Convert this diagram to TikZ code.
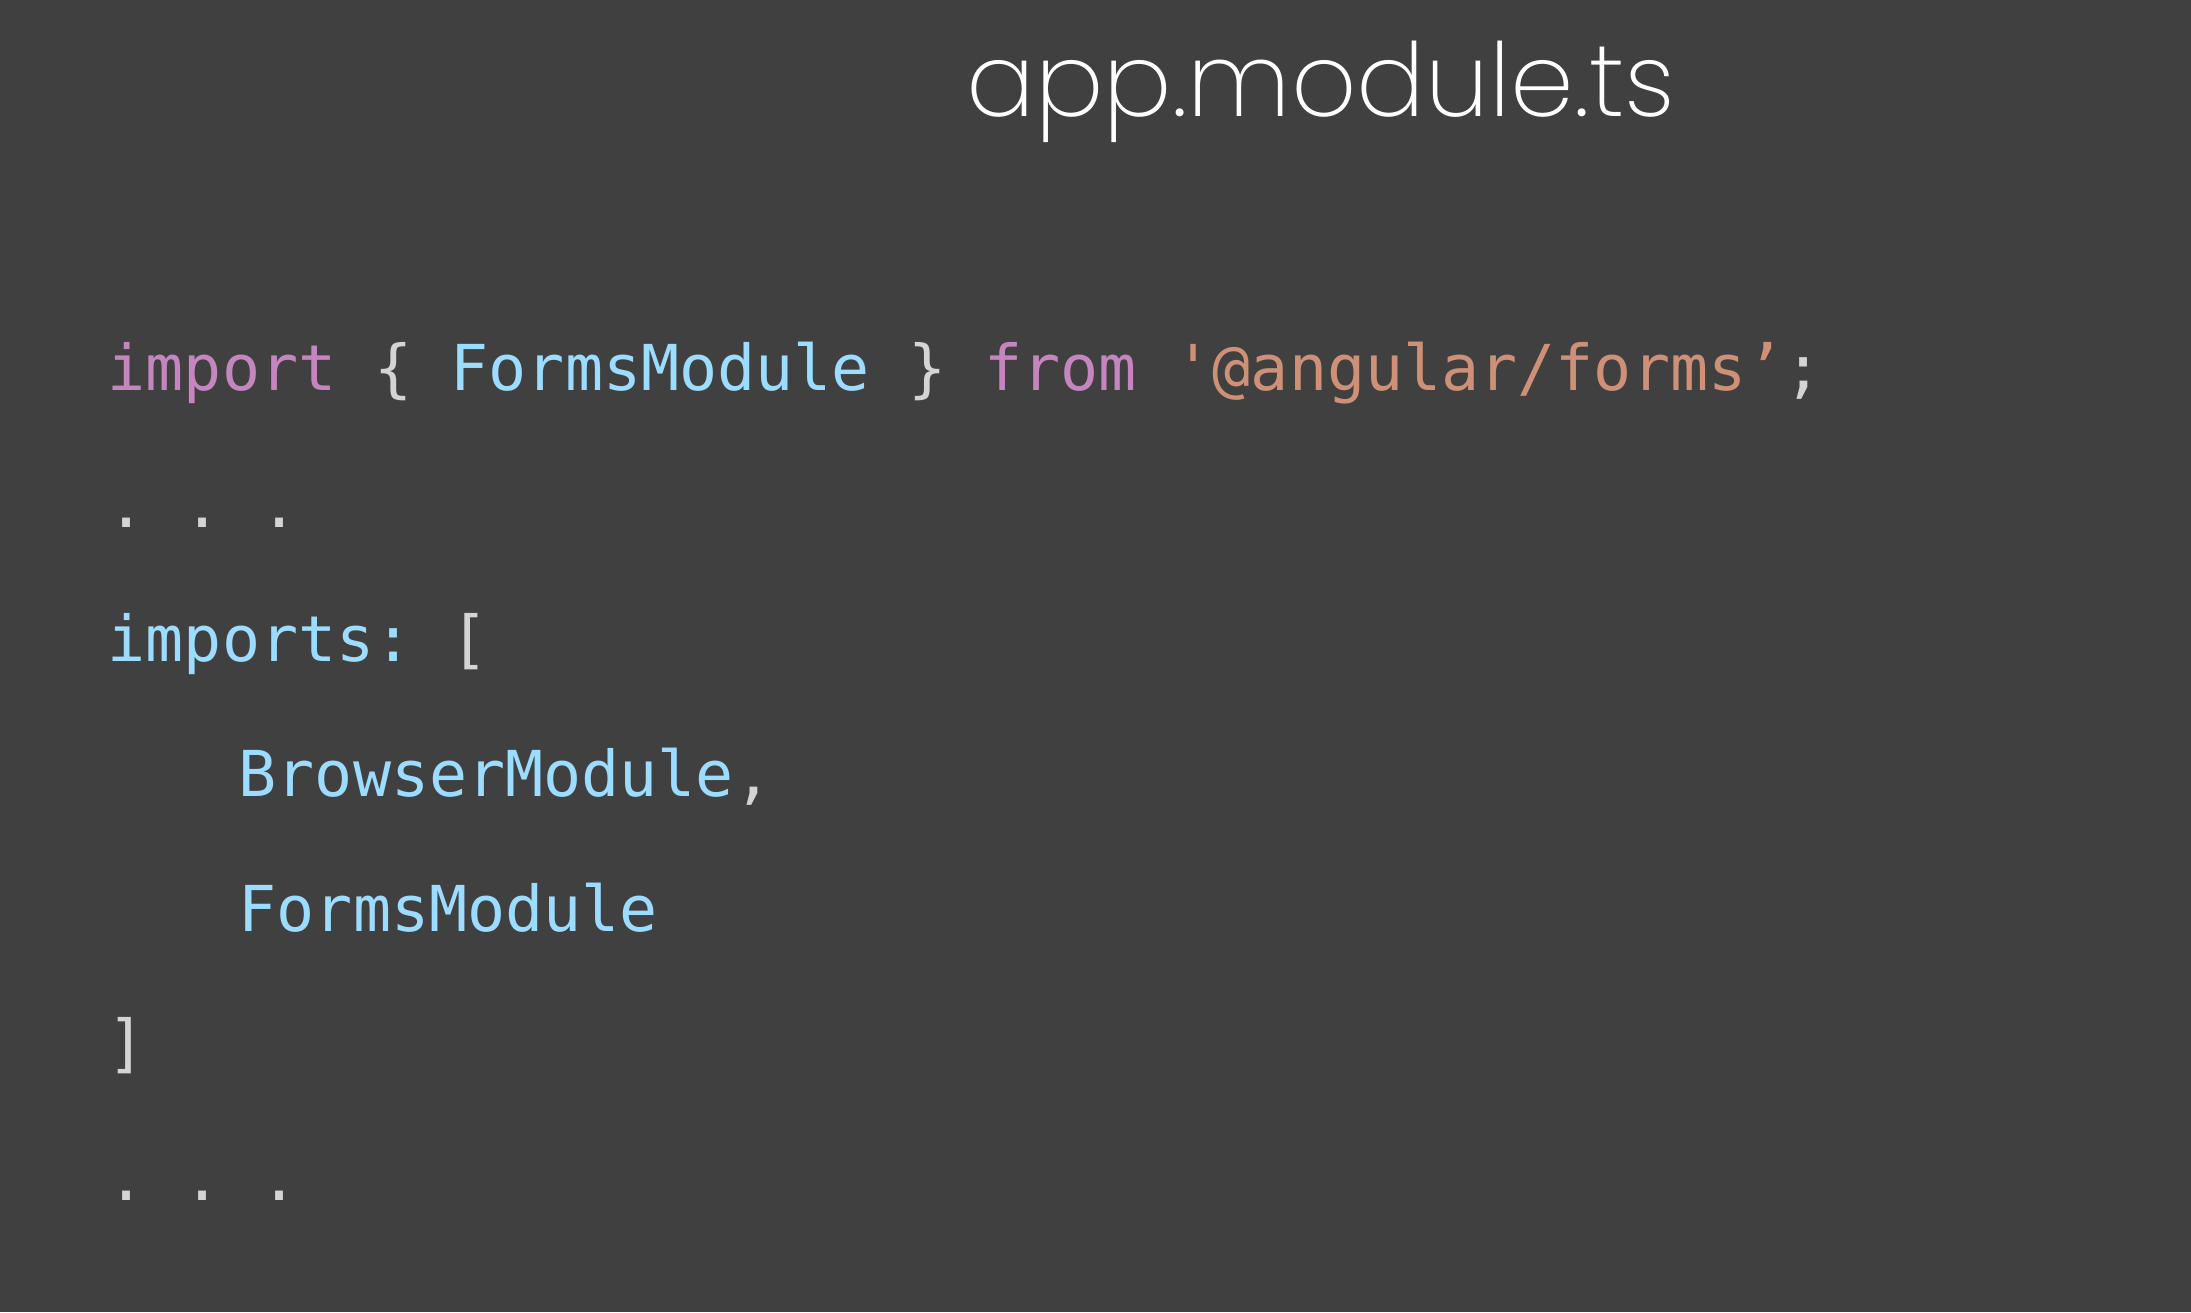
\documentclass[tikz,border=0pt]{standalone}
\usepackage{fontspec}
\setmonofont{DejaVu Sans Mono}
\IfFontExistsTF{Poppins ExtraLight}{\newfontfamily\titlefont{Poppins ExtraLight}}{%
  \IfFontExistsTF{Poppins Light}{\newfontfamily\titlefont{Poppins Light}}{\newfontfamily\titlefont{Poppins}}}
\usepackage{xcolor}
\usepackage{tikz}

\definecolor{slidebg}{HTML}{404040}
\definecolor{kwpink}{HTML}{C586C0}
\definecolor{tyblue}{HTML}{9CDCFE}
\definecolor{strorange}{HTML}{CE9178}
\definecolor{punct}{HTML}{D4D4D4}

\newcommand{\kw}[1]{\textcolor{kwpink}{#1}}
\newcommand{\ty}[1]{\textcolor{tyblue}{#1}}
\newcommand{\st}[1]{\textcolor{strorange}{#1}}

\begin{document}
\begin{tikzpicture}[x=0.01cm, y=-0.01cm,
    code/.style={anchor=base west, inner sep=0pt, text=punct,
      font=\ttfamily\fontsize{18}{20}\selectfont}]
                            % Background
                            \fill[slidebg] (0,0) rectangle (2191,1312);
                            % Title
                            \node[anchor=base west, inner sep=0pt, text=white,
                              font=\titlefont\fontsize{29}{32}\selectfont] (title) at (966,116) {app.module.ts};
                            % Code lines
                            \node[code] (l1) at (107,390) {\kw{import} \{ \ty{FormsModule} \} \kw{from} \st{'@angular/forms’};};
                            \node[code] (l2) at (107,527) {. . .};
                            \node[code] (l3) at (107,661) {\ty{imports:} [};
                            \node[code] (l4) at (238,796) {\ty{BrowserModule},};
                            \node[code] (l5) at (238,931) {\ty{FormsModule}};
                            \node[code] (l6) at (107,1065) {]};
                            \node[code] (l7) at (107,1200) {. . .};
                        \end{tikzpicture}
\end{document}
